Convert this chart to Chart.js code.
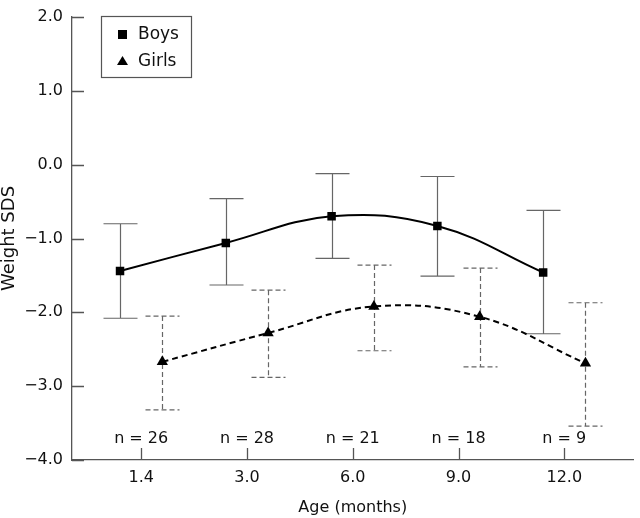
<!DOCTYPE html>
<html lang="en">
<head>
    <meta charset="UTF-8">
    <title>Weight SDS by age</title>
    <script src="https://cdn.jsdelivr.net/npm/chart.js"></script>
    <style>
        html, body { margin: 0; padding: 0; background: #fff; }
        .chart-container { width: 640px; height: 518px; }
    </style>
</head>
<body>
<div class="chart-container">
    <canvas id="chartWeight"></canvas>
</div>
<script>
    // categories and values
    const ageLabels = ["1.4", "3.0", "6.0", "9.0", "12.0"];
    const nLabels = ["n = 26", "n = 28", "n = 21", "n = 18", "n = 9"];
    const yTicks = [-4, -3, -2, -1, 0, 1, 2];

    const boysMean  = [-1.44, -1.06, -0.70, -0.83, -1.46];
    const boysUpper = [-0.80, -0.46, -0.12, -0.16, -0.62];
    const boysLower = [-2.08, -1.63, -1.27, -1.51, -2.29];

    const girlsMean  = [-2.67, -2.28, -1.92, -2.06, -2.69];
    const girlsUpper = [-2.05, -1.70, -1.36, -1.40, -1.87];
    const girlsLower = [-3.32, -2.88, -2.52, -2.74, -3.54];

    const shift = 0.2;   // boys left of the tick, girls right of it
    const fontFamily = "'DejaVu Sans', sans-serif";
    const axisColor = "#555";

    const toPoints = (vals, off) => vals.map((v, i) => ({ x: i + off, y: v }));

    const chartExtras = {
        id: "chartExtras",
        beforeDatasetsDraw(chart) {
            const { ctx, chartArea, scales: { x, y } } = chart;
            ctx.save();

            // inward tick marks
            ctx.strokeStyle = axisColor;
            ctx.lineWidth = 1.3;
            ctx.setLineDash([]);
            ctx.beginPath();
            yTicks.forEach(t => {
                const py = Math.round(y.getPixelForValue(t)) + 0.5;
                ctx.moveTo(chartArea.left, py);
                ctx.lineTo(chartArea.left + 12, py);
            });
            ageLabels.forEach((_, i) => {
                const px = Math.round(x.getPixelForValue(i)) + 0.5;
                ctx.moveTo(px, chartArea.bottom);
                ctx.lineTo(px, chartArea.bottom - 12);
            });
            ctx.stroke();

            // error bars
            const groups = [
                { lo: boysLower, hi: boysUpper, off: -shift, dash: [] },
                { lo: girlsLower, hi: girlsUpper, off: shift, dash: [5, 3] }
            ];
            groups.forEach(g => {
                ctx.setLineDash(g.dash);
                ctx.strokeStyle = "#666";
                ctx.lineWidth = 1.2;
                g.lo.forEach((lo, i) => {
                    const px = Math.round(x.getPixelForValue(i + g.off)) + 0.5;
                    const yLo = y.getPixelForValue(lo);
                    const yHi = y.getPixelForValue(g.hi[i]);
                    ctx.beginPath();
                    ctx.moveTo(px, yHi);
                    ctx.lineTo(px, yLo);
                    ctx.moveTo(px - 17, yHi);
                    ctx.lineTo(px + 17, yHi);
                    ctx.moveTo(px - 17, yLo);
                    ctx.lineTo(px + 17, yLo);
                    ctx.stroke();
                });
            });
            ctx.restore();
        },
        afterDraw(chart) {
            const { ctx, chartArea, scales: { x } } = chart;
            ctx.save();

            // sample sizes above the axis
            ctx.fillStyle = "#111";
            ctx.font = "16px " + fontFamily;
            ctx.textAlign = "center";
            ctx.textBaseline = "middle";
            nLabels.forEach((t, i) => {
                ctx.fillText(t, x.getPixelForValue(i), chartArea.bottom - 21);
            });

            // legend box
            const lx = chartArea.left + 29, ly = chartArea.top - 1;
            ctx.strokeStyle = axisColor;
            ctx.lineWidth = 1.2;
            ctx.strokeRect(lx + 0.5, ly + 0.5, 90, 61);
            ctx.fillStyle = "#000";
            ctx.fillRect(lx + 17, ly + 14, 9, 9);
            ctx.beginPath();
            ctx.moveTo(lx + 21.5, ly + 40);
            ctx.lineTo(lx + 27, ly + 49);
            ctx.lineTo(lx + 16, ly + 49);
            ctx.closePath();
            ctx.fill();
            ctx.fillStyle = "#111";
            ctx.font = "17px " + fontFamily;
            ctx.textAlign = "left";
            ctx.fillText(chart.data.datasets[0].label, lx + 37, ly + 19);
            ctx.fillText(chart.data.datasets[1].label, lx + 37, ly + 46);
            ctx.restore();
        }
    };

    new Chart(document.getElementById("chartWeight"), {
        type: "scatter",
        data: {
            datasets: [{
                label: "Boys",
                data: toPoints(boysMean, -shift),
                showLine: true,
                tension: 0.4,
                borderColor: "#000",
                borderWidth: 2,
                pointStyle: "rect",
                pointRadius: 6,
                pointBackgroundColor: "#000",
                pointBorderWidth: 0
            }, {
                label: "Girls",
                data: toPoints(girlsMean, shift),
                showLine: true,
                tension: 0.4,
                borderColor: "#000",
                borderWidth: 2,
                borderDash: [6, 4],
                pointStyle: "triangle",
                pointRadius: 6.5,
                pointBackgroundColor: "#000",
                pointBorderWidth: 0
            }]
        },
        options: {
            responsive: true,
            maintainAspectRatio: false,
            animation: false,
            layout: { padding: { top: 0, right: 0, left: 0, bottom: 0 } },
            plugins: { legend: { display: false }, tooltip: { enabled: false } },
            scales: {
                x: {
                    type: "linear",
                    min: -0.654,
                    max: 4.654,
                    grid: { display: false, drawTicks: false },
                    border: { display: true, color: axisColor, width: 1.3 },
                    afterBuildTicks: s => { s.ticks = ageLabels.map((_, i) => ({ value: i })); },
                    afterFit: s => { s.height = 58; },
                    ticks: {
                        padding: 10,
                        color: "#111",
                        font: { family: fontFamily, size: 16, lineHeight: 1 },
                        callback: v => ageLabels[v]
                    },
                    title: {
                        display: true,
                        text: "Age (months)",
                        color: "#111",
                        font: { family: fontFamily, size: 16, lineHeight: 1 },
                        padding: { top: 0, bottom: 2 }
                    }
                },
                y: {
                    min: -4,
                    max: 2,
                    grid: { display: false, drawTicks: false },
                    border: { display: true, color: axisColor, width: 1.3 },
                    afterBuildTicks: s => { s.ticks = yTicks.map(v => ({ value: v })); },
                    afterFit: s => { s.width = 72; },
                    ticks: {
                        padding: 9,
                        color: "#111",
                        font: { family: fontFamily, size: 16, lineHeight: 1 },
                        callback: v => (v < 0 ? "\u2212" : "") + Math.abs(v).toFixed(1)
                    },
                    title: {
                        display: true,
                        text: "Weight SDS",
                        color: "#111",
                        font: { family: fontFamily, size: 18, lineHeight: 1 },
                        padding: { top: 0, bottom: 0 }
                    }
                }
            }
        },
        plugins: [chartExtras]
    });
</script>
</body>
</html>
